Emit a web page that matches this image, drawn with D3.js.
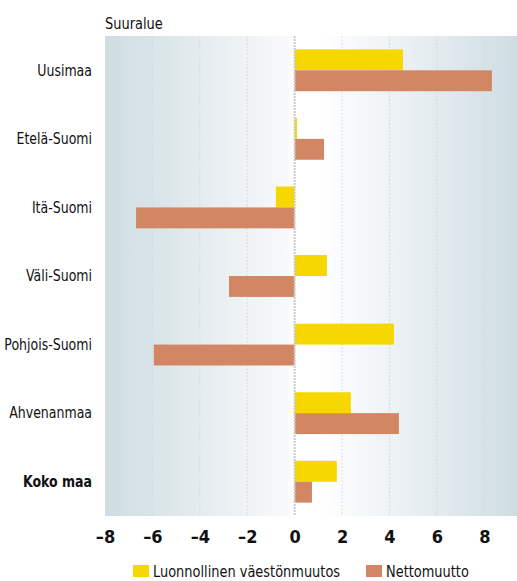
<!DOCTYPE html>
<html>
<head>
<meta charset="utf-8">
<script src="https://cdn.jsdelivr.net/npm/d3@7"></script>
<style>
  body { margin: 0; background: #fff; }
  text { font-family: "DejaVu Sans Condensed", "Liberation Sans Narrow", sans-serif; fill: #111; }
</style>
</head>
<body>
<div id="plt"></div>
<script>
// data
var regions = ["Uusimaa", "Etelä-Suomi", "Itä-Suomi", "Väli-Suomi", "Pohjois-Suomi", "Ahvenanmaa", "Koko maa"];
var natural = [4.57, 0.1, -0.79, 1.36, 4.19, 2.37, 1.78];
var netMigration = [8.32, 1.24, -6.69, -2.77, -5.94, 4.4, 0.73];
var seriesNames = ["Luonnollinen väestönmuutos", "Nettomuutto"];
var tickValues = [-8, -6, -4, -2, 0, 2, 4, 6, 8];

var colors = ["#f6d800", "#d38663"];

// set the dimensions and margins of the plot
var margin = {top: 36, right: 0, bottom: 65, left: 105};
var width = 517 - margin.left - margin.right;
var height = 581 - margin.top - margin.bottom;

var svg = d3.select("#plt")
            .append("svg")
            .attr("width", width + margin.left + margin.right)
            .attr("height", height + margin.top + margin.bottom)
            .append("g")
            .attr("transform", "translate(" + margin.left + "," + margin.top + ")");

var x = d3.scaleLinear()
          .domain([-8, 9.38])
          .range([0, width]);

var y = d3.scaleBand()
          .domain(regions)
          .range([0, height])
          .paddingInner(0.39)
          .paddingOuter(0.195);

var ySub = d3.scaleBand()
             .domain([0, 1])
             .range([0, y.bandwidth()]);

// background gradient, white around zero
var zeroPct = (x(0) / width * 100);
var grad = svg.append("defs").append("linearGradient")
              .attr("id", "bg")
              .attr("x1", "0%").attr("x2", "100%");
grad.append("stop").attr("offset", "0%").attr("stop-color", "#cedde2");
grad.append("stop").attr("offset", (zeroPct - 2) + "%").attr("stop-color", "#f8f9fa");
grad.append("stop").attr("offset", zeroPct + "%").attr("stop-color", "#ffffff");
grad.append("stop").attr("offset", (zeroPct + 6) + "%").attr("stop-color", "#ffffff");
grad.append("stop").attr("offset", "100%").attr("stop-color", "#cfdde3");

svg.append("rect")
   .attr("width", width)
   .attr("height", height)
   .attr("fill", "url(#bg)");

// grid lines
svg.selectAll(".grid")
   .data(tickValues.filter(function(d) { return d !== 0 && d !== -8; }))
   .enter()
   .append("line")
   .attr("x1", function(d) { return x(d); })
   .attr("x2", function(d) { return x(d); })
   .attr("y1", 0)
   .attr("y2", height)
   .attr("stroke", "#d2d6d8")
   .attr("stroke-width", 1)
   .attr("stroke-dasharray", "1.5,2");

// bars
var rows = regions.map(function(r, i) { return {region: r, values: [natural[i], netMigration[i]]}; });

var groups = svg.selectAll(".row")
                .data(rows)
                .enter()
                .append("g")
                .attr("transform", function(d) { return "translate(0," + y(d.region) + ")"; });

groups.selectAll("rect")
      .data(function(d) { return d.values; })
      .enter()
      .append("rect")
      .attr("x", function(d) { return x(Math.min(0, d)); })
      .attr("y", function(d, i) { return ySub(i); })
      .attr("width", function(d) { return Math.abs(x(d) - x(0)); })
      .attr("height", ySub.bandwidth())
      .attr("fill", function(d, i) { return colors[i]; });

// zero line
svg.append("line")
   .attr("x1", x(0)).attr("x2", x(0))
   .attr("y1", 0).attr("y2", height)
   .attr("stroke", "#c9c9c9")
   .attr("stroke-width", 2)
   .attr("stroke-dasharray", "2,1");

// category labels (squeezed a little to look condensed)
svg.selectAll(".cat")
   .data(regions)
   .enter()
   .append("text")
   .attr("transform", function(d) { return "translate(-13," + (y(d) + y.bandwidth() / 2) + ") scale(0.93,1)"; })
   .attr("dy", "0.35em")
   .attr("text-anchor", "end")
   .style("font-size", "15px")
   .style("font-weight", function(d) { return d === "Koko maa" ? "bold" : "normal"; })
   .text(function(d) { return d; });

svg.append("text")
   .attr("transform", "translate(0,-7) scale(0.9,1)")
   .style("font-size", "16px")
   .text("Suuralue");

// x axis
var xAxis = svg.append("g")
               .attr("transform", "translate(0," + height + ")")
               .call(d3.axisBottom(x).tickValues(tickValues).tickSize(0).tickPadding(14)
                       .tickFormat(function(d) { return d < 0 ? "\u2013" + Math.abs(d) : d; }));
xAxis.select(".domain").remove();
xAxis.selectAll("text")
     .style("font-family", "\"DejaVu Sans Condensed\", sans-serif")
     .style("font-size", "18px")
     .style("font-weight", "bold")
     .attr("fill", "#111");

// legend
var legendX = [28, 261];
var legend = svg.selectAll(".legend")
                .data(seriesNames)
                .enter()
                .append("g")
                .attr("transform", function(d, i) { return "translate(" + legendX[i] + "," + (height + 49) + ")"; });

legend.append("rect")
      .attr("width", 16)
      .attr("height", 12)
      .attr("fill", function(d, i) { return colors[i]; });

legend.append("text")
      .attr("transform", "translate(20,6) scale(0.9,1)")
      .attr("dy", "0.35em")
      .style("font-size", "16px")
      .text(function(d) { return d; });
</script>
</body>
</html>
